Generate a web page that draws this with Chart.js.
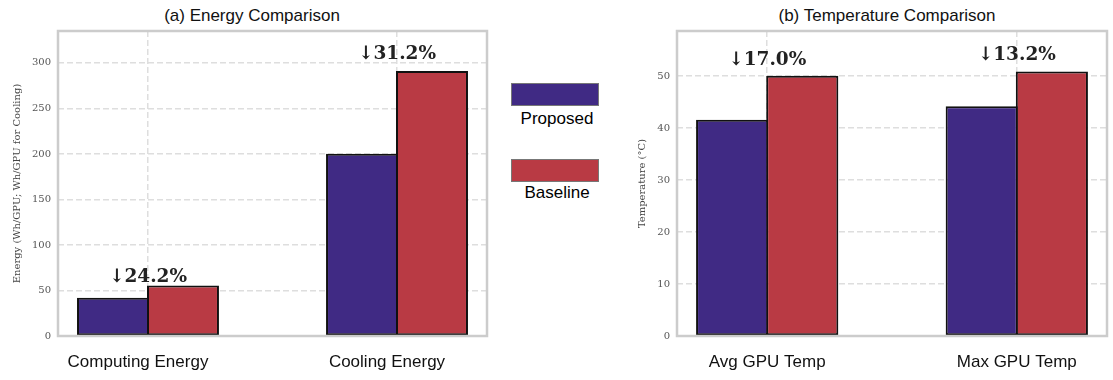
<!DOCTYPE html>
<html><head><meta charset="utf-8">
<script src="https://cdn.jsdelivr.net/npm/chart.js@4.4.0/dist/chart.umd.min.js"></script>
<style>
html,body{margin:0;padding:0;background:#fff;width:1113px;height:380px;overflow:hidden;position:relative;font-family:"Liberation Sans",Arial,sans-serif;}
canvas{position:absolute;top:0;}
.title{position:absolute;top:6px;font-size:17px;line-height:20px;color:#111;transform:translateX(-50%);white-space:nowrap;}
.lg{position:absolute;left:511px;width:86px;height:21px;border:1px solid #777;}
.lgt{position:absolute;left:557px;font-size:17px;line-height:20px;color:#000;transform:translateX(-50%);white-space:nowrap;}
</style></head><body>
<div class="title" style="left:252px">(a) Energy Comparison</div>
<div class="title" style="left:887px">(b) Temperature Comparison</div>
<canvas id="c1" width="495" height="380" style="left:0px"></canvas>
<canvas id="c2" width="513" height="380" style="left:600px"></canvas>
<div id="lg0" class="lg" style="top:83px"></div>
<div id="lgt0" class="lgt" style="top:109px"></div>
<div id="lg1" class="lg" style="top:159px"></div>
<div id="lgt1" class="lgt" style="top:183px"></div>
<script>
// ---- data ----
const seriesNames = ['Proposed', 'Baseline'];
const seriesColors = ['#402A84', '#B93A44'];

const energyCategories = ['Computing Energy', 'Cooling Energy'];
const energyProposed = [42.0, 200.3];
const energyBaseline = [55.4, 291.0];
const energyReductionLabels = ['\u219324.2%', '\u219331.2%'];
const energyTicks = [0, 50, 100, 150, 200, 250, 300];

const tempCategories = ['Avg GPU Temp', 'Max GPU Temp'];
const tempProposed = [41.6, 44.2];
const tempBaseline = [50.1, 50.9];
const tempReductionLabels = ['\u219317.0%', '\u219313.2%'];
const tempTicks = [0, 10, 20, 30, 40, 50];

// legend
for (let i = 0; i < 2; i++) {
  document.getElementById('lg' + i).style.background = seriesColors[i];
  document.getElementById('lgt' + i).textContent = seriesNames[i];
}

const framePlugin = {
  id: 'frame',
  afterDatasetsDraw(chart) {
    const a = chart.chartArea, ctx = chart.ctx;
    ctx.save();
    ctx.strokeStyle = '#cccccc';
    ctx.lineWidth = 2.5;
    ctx.strokeRect(a.left, a.top, a.right - a.left, a.bottom - a.top);
    ctx.restore();
  }
};

const reductionPlugin = {
  id: 'reduction',
  afterDatasetsDraw(chart, args, opts) {
    const ctx = chart.ctx;
    const xs = chart.scales.x;
    const meta = chart.getDatasetMeta(1);
    ctx.save();
    ctx.font = 'bold 18.5px "DejaVu Serif"';
    ctx.fillStyle = '#222';
    ctx.textAlign = 'center';
    ctx.textBaseline = 'alphabetic';
    opts.labels.forEach((t, i) => {
      const bar = meta.data[i];
      ctx.fillText(t, xs.getPixelForValue(i), bar.y - opts.gaps[i]);
    });
    ctx.restore();
  }
};

function makeChart(id, cats, prop, base, labels, ticks, ymax, ytitle, yw, padR, titlePad, gaps, lblOff) {
  const ds = [prop, base].map((vals, k) => ({
    label: seriesNames[k],
    data: vals.map((v, i) => ({ x: i, y: v })),
    backgroundColor: seriesColors[k],
    borderColor: '#111111',
    borderWidth: 2,
    borderSkipped: false,
    categoryPercentage: 0.562,
    barPercentage: 1.0286
  }));
  return new Chart(document.getElementById(id), {
    type: 'bar',
    data: { datasets: ds },
    plugins: [framePlugin, reductionPlugin],
    options: {
      responsive: false,
      animation: false,
      devicePixelRatio: 1,
      layout: { padding: { top: 31, right: padR, bottom: 0, left: 0 } },
      plugins: {
        legend: { display: false },
        tooltip: { enabled: false },
        reduction: { labels: labels, gaps: gaps }
      },
      scales: {
        x: {
          type: 'linear',
          offset: false,
          min: -0.3614, max: 1.3614,
          afterBuildTicks: s => { s.ticks = cats.map((c, i) => ({ value: i })); },
          afterFit: s => { s.height = 44; },
          ticks: {
            callback: v => cats[v],
            font: { family: '"Liberation Sans", Arial, sans-serif', size: 17 },
            color: '#111',
            padding: 16,
            labelOffset: lblOff,
            maxRotation: 0, autoSkip: false
          },
          grid: { color: '#dedede', lineWidth: 1.5, drawTicks: false, offset: false },
          border: { display: false, dash: [6, 3] }
        },
        y: {
          min: 0, max: ymax,
          afterBuildTicks: s => { s.ticks = ticks.map(v => ({ value: v })); },
          afterFit: s => { s.width = yw; },
          ticks: {
            font: { family: '"DejaVu Serif", serif', size: 10 },
            color: '#555',
            padding: 7
          },
          title: {
            display: true, text: ytitle,
            font: { family: '"DejaVu Serif", serif', size: 10 },
            color: '#444',
            padding: { top: titlePad, bottom: 0 }
          },
          grid: { color: '#dedede', lineWidth: 1.5, drawTicks: false },
          border: { display: false, dash: [6, 3] }
        }
      }
    }
  });
}

makeChart('c1', energyCategories, energyProposed, energyBaseline, energyReductionLabels,
  energyTicks, 335, 'Energy (Wh/GPU; Wh/GPU for Cooling)', 58, 8, 11, [4, 12], -10);
makeChart('c2', tempCategories, tempProposed, tempBaseline, tempReductionLabels,
  tempTicks, 58.7, 'Temperature (\u00B0C)', 77, 6, 36, [11, 12], 0);
</script>
</body></html>
